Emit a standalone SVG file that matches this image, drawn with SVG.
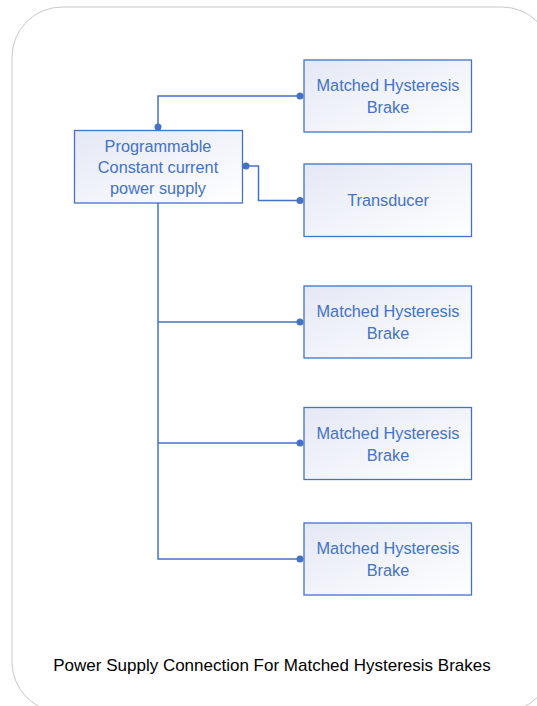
<svg xmlns="http://www.w3.org/2000/svg" width="537" height="706" viewBox="0 0 537 706">
<defs>
<linearGradient id="g" x1="0" y1="0" x2="1" y2="1">
<stop offset="0" stop-color="#e4e8f5"/>
<stop offset="1" stop-color="#ffffff"/>
</linearGradient>
<marker id="dot" markerWidth="8" markerHeight="8" refX="4" refY="4" markerUnits="userSpaceOnUse">
<circle cx="4" cy="4" r="3.5" fill="#4472c4"/>
</marker>
<style>
.box{fill:url(#g);stroke:#4472c4;stroke-width:1.3}
.lbl{font-family:"Liberation Sans",Arial,sans-serif;font-size:16.3px;fill:#4472c4;text-anchor:middle}
.wire{fill:none;stroke:#4472c4;stroke-width:1.5}
.cap{font-family:"Liberation Sans",Arial,sans-serif;font-size:17px;fill:#000;text-anchor:middle}
</style>
</defs>
<rect x="12" y="7" width="540" height="705" rx="50" ry="50" fill="#fff" stroke="#c8c8c8" stroke-width="1"/>
<g id="connectors">
<path class="wire" d="M158 127 V96 H300" marker-start="url(#dot)" marker-end="url(#dot)"/>
<path class="wire" d="M246 166 H258.5 V200.5 H300" marker-start="url(#dot)" marker-end="url(#dot)"/>
<path class="wire" d="M158 203 V559 H300" marker-end="url(#dot)"/>
<path class="wire" d="M158 322 H300" marker-end="url(#dot)"/>
<path class="wire" d="M158 443 H300" marker-end="url(#dot)"/>
</g>
<g id="psu">
<rect class="box" x="74.5" y="130.5" width="168" height="72.5"/>
<text class="lbl" x="158" y="152">Programmable</text>
<text class="lbl" x="158" y="173">Constant current</text>
<text class="lbl" x="158" y="194">power supply</text>
</g>
<g id="brake1">
<rect class="box" x="304" y="60" width="167.5" height="72"/>
<text class="lbl" x="388" y="91">Matched Hysteresis</text>
<text class="lbl" x="388" y="113">Brake</text>
</g>
<g id="transducer">
<rect class="box" x="304" y="164" width="167.5" height="72.5"/>
<text class="lbl" x="388" y="206">Transducer</text>
</g>
<g id="brake2">
<rect class="box" x="304" y="286" width="167.5" height="72"/>
<text class="lbl" x="388" y="317">Matched Hysteresis</text>
<text class="lbl" x="388" y="339">Brake</text>
</g>
<g id="brake3">
<rect class="box" x="304" y="407.5" width="167.5" height="72"/>
<text class="lbl" x="388" y="439">Matched Hysteresis</text>
<text class="lbl" x="388" y="461">Brake</text>
</g>
<g id="brake4">
<rect class="box" x="304" y="523" width="167.5" height="72"/>
<text class="lbl" x="388" y="554">Matched Hysteresis</text>
<text class="lbl" x="388" y="576">Brake</text>
</g>
<text class="cap" x="272" y="671">Power Supply Connection For Matched Hysteresis Brakes</text>
</svg>
